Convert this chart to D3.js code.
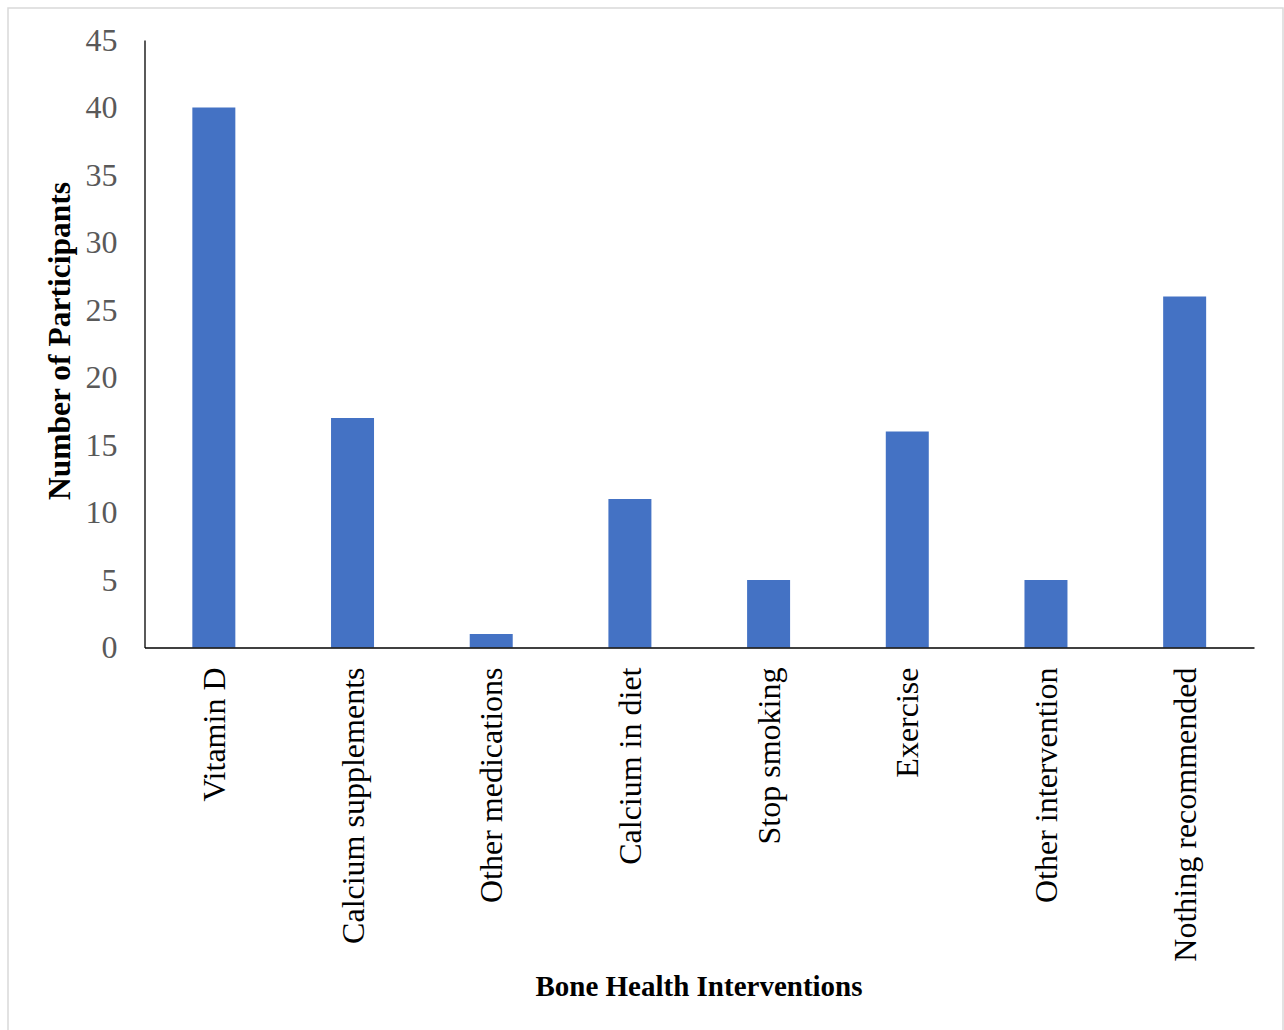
<!DOCTYPE html>
<html>
<head>
<meta charset="utf-8">
<script src="https://cdn.jsdelivr.net/npm/d3@7"></script>
<style>
  html, body { margin: 0; padding: 0; background: #fff; }
  svg { display: block; }
</style>
</head>
<body>
<svg id="chart" width="1284" height="1030"></svg>
<script>
const categories = ["Vitamin D", "Calcium supplements", "Other medications", "Calcium in diet", "Stop smoking", "Exercise", "Other intervention", "Nothing recommended"];
const values = [40, 17, 1, 11, 5, 16, 5, 26];
const yTicks = [0, 5, 10, 15, 20, 25, 30, 35, 40, 45];
const xTitle = "Bone Health Interventions";
const yTitle = "Number of Participants";

const svg = d3.select("#chart");
const m = { left: 144.5, right: 1254, top: 40, bottom: 647.5 };

svg.append("rect").attr("x", 8).attr("y", 8).attr("width", 1275).attr("height", 1030)
  .attr("fill", "#fff").attr("stroke", "#d9d9d9").attr("stroke-width", 1.5);

const x = d3.scaleBand().domain(categories).range([m.left, m.right]).paddingInner(0.69).paddingOuter(0.345);
const y = d3.scaleLinear().domain([0, 45]).range([m.bottom, m.top]);

svg.append("g").selectAll("rect").data(values).join("rect")
  .attr("x", (d, i) => x(categories[i]))
  .attr("y", d => y(d))
  .attr("width", x.bandwidth())
  .attr("height", d => y(0) - y(d))
  .attr("fill", "#4472c4");

// Y axis
const yAxis = svg.append("g").attr("transform", `translate(${m.left},0)`)
  .call(d3.axisLeft(y).tickValues(yTicks).tickSize(0).tickPadding(27));
yAxis.select(".domain").attr("stroke", "#000").attr("stroke-width", 1.3);
yAxis.selectAll("text").attr("font-family", "'Liberation Serif', 'Times New Roman', serif")
  .attr("font-size", 32).attr("fill", "#595959");

// X axis
const xAxis = svg.append("g").attr("transform", `translate(0,${m.bottom})`)
  .call(d3.axisBottom(x).tickSize(0).tickSizeOuter(0));
xAxis.select(".domain").attr("stroke", "#000").attr("stroke-width", 1.3);
xAxis.selectAll("text")
  .attr("font-family", "'Liberation Serif', 'Times New Roman', serif")
  .attr("font-size", 32).attr("fill", "#000")
  .attr("text-anchor", "end")
  .attr("transform", "rotate(-90)")
  .attr("x", -20).attr("y", 0).attr("dy", "0.35em");

svg.append("text").attr("x", 699).attr("y", 996)
  .attr("text-anchor", "middle")
  .attr("font-family", "'Liberation Serif', 'Times New Roman', serif")
  .attr("font-weight", "bold").attr("font-size", 29).attr("fill", "#000")
  .text(xTitle);

svg.append("text").attr("transform", "translate(70,341) rotate(-90)")
  .attr("text-anchor", "middle")
  .attr("font-family", "'Liberation Serif', 'Times New Roman', serif")
  .attr("font-weight", "bold").attr("font-size", 31.5).attr("fill", "#000")
  .text(yTitle);
</script>
</body>
</html>
